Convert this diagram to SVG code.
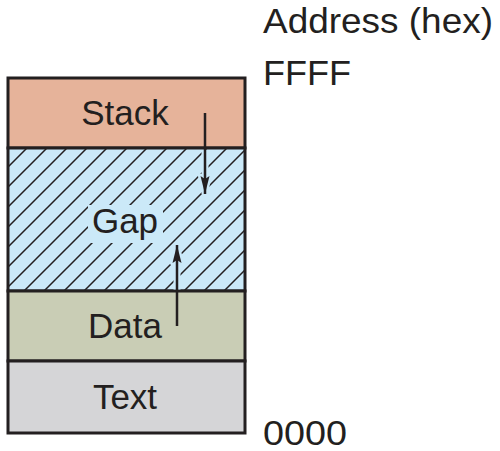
<svg xmlns="http://www.w3.org/2000/svg" width="500" height="451" viewBox="0 0 500 451">
<defs>
<pattern id="hatch" patternUnits="userSpaceOnUse" x="7" y="148" width="20" height="20">
<rect width="20" height="20" fill="#cbe9f8"/>
<path d="M0,20 L20,0 M-5,5 L5,-5 M15,25 L25,15" stroke="#231f20" stroke-width="1.5"/>
</pattern>
<marker id="ah" viewBox="0 0 18 10" refX="18" refY="5" markerWidth="18" markerHeight="10" markerUnits="userSpaceOnUse" orient="auto">
<path d="M0,0.5 L18,5 L0,9.5 L3,5 Z" fill="#231f20"/>
</marker>
<marker id="ahh" viewBox="-4 -4 26 18" refX="18" refY="5" markerWidth="26" markerHeight="18" markerUnits="userSpaceOnUse" orient="auto">
<path d="M0,0.5 L18,5 L0,9.5 L3,5 Z" fill="#cbe9f8" stroke="#cbe9f8" stroke-width="5" stroke-linejoin="round"/>
</marker>
</defs>
<style>
.seg{stroke:#231f20;stroke-width:3}
.lbl{font-family:"Liberation Sans",Arial,sans-serif;font-size:35px;fill:#231f20;text-anchor:middle}
.addr{font-family:"Liberation Sans",Arial,sans-serif;font-size:35px;fill:#231f20}
</style>
<g id="stack"><rect class="seg" x="8" y="78" width="237" height="70" fill="#e6b39a"/><text class="lbl" x="125" y="125">Stack</text></g>
<g id="gap"><rect class="seg" x="8" y="148" width="237" height="143" fill="url(#hatch)"/><rect x="88" y="205" width="75" height="38" fill="#cbe9f8"/><text class="lbl" x="125" y="233">Gap</text></g>
<g id="data"><rect class="seg" x="8" y="291" width="237" height="70" fill="#c9cdb5"/><text class="lbl" x="125" y="338">Data</text></g>
<g id="text"><rect class="seg" x="8" y="361" width="237" height="72" fill="#d5d5d7"/><text class="lbl" x="125" y="409">Text</text></g>
<g id="connectors" fill="none">
<line x1="205" y1="150" x2="205" y2="194" stroke="#cbe9f8" stroke-width="7" marker-end="url(#ahh)"/>
<line x1="177" y1="289.5" x2="177" y2="245" stroke="#cbe9f8" stroke-width="7" marker-end="url(#ahh)"/>
<line x1="205" y1="113" x2="205" y2="194" stroke="#231f20" stroke-width="2.5" marker-end="url(#ah)"/>
<line x1="177" y1="326" x2="177" y2="245" stroke="#231f20" stroke-width="2.5" marker-end="url(#ah)"/>
</g>
<g id="labels">
<text class="addr" x="263" y="33" textLength="230" lengthAdjust="spacingAndGlyphs" font-size="36">Address (hex)</text>
<text class="addr" x="263" y="85" textLength="88" lengthAdjust="spacingAndGlyphs">FFFF</text>
<text class="addr" x="263" y="445" textLength="84" lengthAdjust="spacingAndGlyphs">0000</text>
</g>
</svg>
